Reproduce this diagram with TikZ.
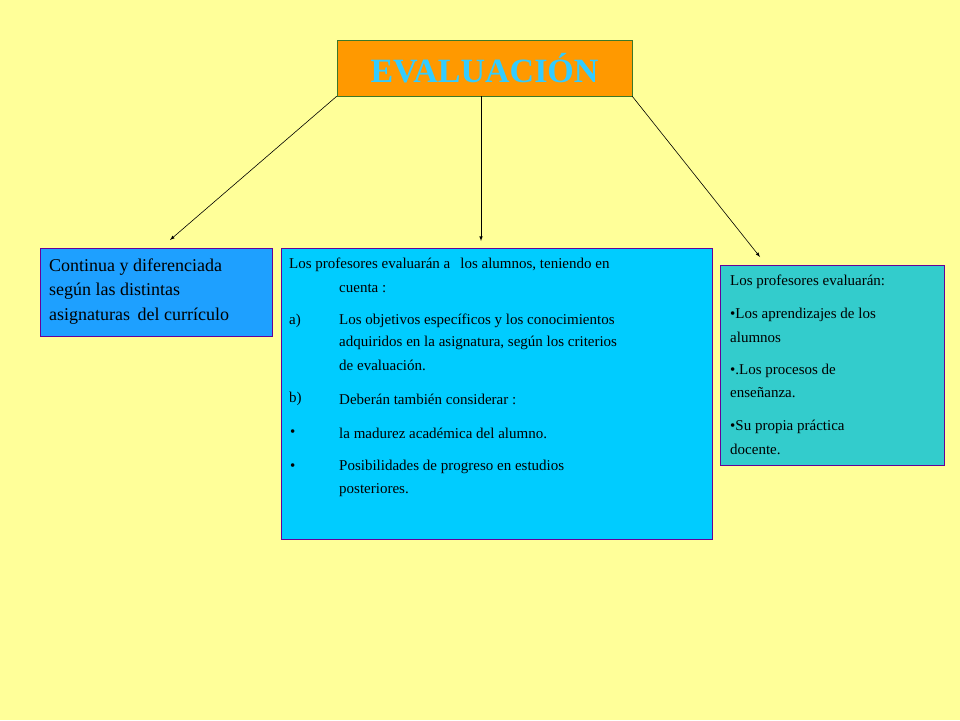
\documentclass[tikz,border=0pt]{standalone}
\usepackage{fontspec}
\setmainfont{Liberation Serif}
\begin{document}
\begin{tikzpicture}[x=1pt,y=-1pt,
  box/.style={draw=violet!80!blue, line width=0.8pt},
  t/.style={anchor=west, inner sep=0pt, font=\fontsize{15}{18}\selectfont},
  tl/.style={anchor=west, inner sep=0pt, font=\fontsize{18}{22}\selectfont},
  arr/.style={-latex, line width=0.6pt}]
\fill[yellow!45!white, fill={rgb,255:red,255;green,255;blue,153}] (0,0) rectangle (960,720);
\useasboundingbox (0,0) rectangle (960,720);
\node[draw={rgb,255:red,60;green,120;blue,40}, fill={rgb,255:red,255;green,153;blue,0}, minimum width=295, minimum height=56, inner sep=0pt,
  font=\fontsize{34}{34}\selectfont\bfseries, text={rgb,255:red,51;green,204;blue,255}] (ev) at (484.5,68) {EVALUACIÓN};
\node[box, fill={rgb,255:red,30;green,160;blue,255}, minimum width=232, minimum height=88, inner sep=0pt] (l) at (156,292) {};
\node[box, fill={rgb,255:red,0;green,204;blue,255}, minimum width=431, minimum height=291, inner sep=0pt] (m) at (496.5,393.5) {};
\node[box, fill={rgb,255:red,51;green,204;blue,204}, minimum width=224, minimum height=200, inner sep=0pt] (r) at (832,365) {};
\coordinate (la) at (170,240);
\coordinate (ma) at (481,241);
\coordinate (ra) at (760,257);
\draw[arr] (ev.south west) -- (la);
\draw[arr] (ev.south west -| ma) -- (ma);
\draw[arr] (ev.south east) -- (ra);
\node[tl] (l1) at (49,267) {Continua y diferenciada};
\node[tl] (l2) at (49,291) {según las distintas};
\node[tl] (l3) at (49,316) {asignaturas\, del currículo};
\node[t] (m1) at (289,265) {Los profesores evaluarán a \, los alumnos, teniendo en};
\node[t] (m2) at (339,288) {cuenta :};
\node[t] (m3a) at (289,321) {a)};
\node[t] (m3) at (339,321) {Los objetivos específicos y los conocimientos};
\node[t] (m4) at (339,343) {adquiridos en la asignatura, según los criterios};
\node[t] (m5) at (339,365) {de evaluación.};
\node[t] (m6a) at (289,399) {b)};
\node[t] (m6) at (339,399) {Deberán también considerar :};
\node[t] (m7a) at (290,433) {•};
\node[t] (m7) at (339,433) {la madurez académica del alumno.};
\node[t] (m8a) at (290,467) {•};
\node[t] (m8) at (339,467) {Posibilidades de progreso en estudios};
\node[t] (m9) at (339,490) {posteriores.};
\node[t] (r1) at (730,282) {Los profesores evaluarán:};
\node[t] (r2) at (730,315) {•Los aprendizajes de los};
\node[t] (r3) at (730,337) {alumnos};
\node[t] (r4) at (730,371) {•.Los procesos de};
\node[t] (r5) at (730,393) {enseñanza.};
\node[t] (r6) at (730,427) {•Su propia práctica};
\node[t] (r7) at (730,449) {docente.};
\end{tikzpicture}
\end{document}
